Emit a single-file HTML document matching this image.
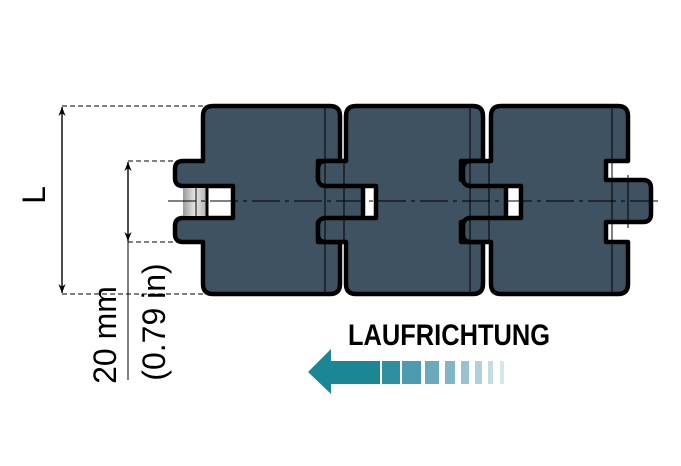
<!DOCTYPE html>
<html><head><meta charset="utf-8"><style>
html,body{margin:0;padding:0;background:#fff;width:681px;height:466px;overflow:hidden}
</style></head><body>
<svg width="681" height="466" viewBox="0 0 681 466" xmlns="http://www.w3.org/2000/svg">
<defs>
<linearGradient id="pg" x1="0" x2="1" y1="0" y2="0">
<stop offset="0" stop-color="#9a9a9a"/><stop offset="0.5" stop-color="#e6e6e6"/><stop offset="1" stop-color="#b0b0b0"/>
</linearGradient>
<marker id="ah" viewBox="0 0 10 10" refX="10" refY="5" markerWidth="9" markerHeight="12" orient="auto-start-reverse" markerUnits="userSpaceOnUse">
<path d="M0,1 L10,5 L0,9 L3,5 Z" fill="#000"/></marker>
</defs>
<g stroke="#000" stroke-width="1" stroke-dasharray="5,3" fill="none">
<line x1="62" y1="106" x2="205" y2="106"/>
<line x1="62" y1="294" x2="205" y2="294"/>
<line x1="128" y1="161" x2="180" y2="161"/>
<line x1="128" y1="242" x2="180" y2="242"/>
</g>
<line x1="62" y1="107" x2="62" y2="293" stroke="#000" stroke-width="1.4" marker-start="url(#ah)" marker-end="url(#ah)"/>
<line x1="128" y1="162" x2="128" y2="241" stroke="#000" stroke-width="1.4" marker-start="url(#ah)" marker-end="url(#ah)"/>
<line x1="128" y1="241" x2="128" y2="380" stroke="#000" stroke-width="1"/>
<text transform="translate(45,195) rotate(-90)" font-family="Liberation Sans, sans-serif" font-size="32" text-anchor="middle">L</text>
<text transform="translate(116,335) rotate(-90)" font-family="Liberation Sans, sans-serif" font-size="32" text-anchor="middle">20 mm</text>
<text transform="translate(165,322) rotate(-90)" font-family="Liberation Sans, sans-serif" font-size="32" text-anchor="middle">(0.79 in)</text>

<g fill="#3f5261" stroke="#000" stroke-width="4.5" stroke-linejoin="round">
<path id="m" transform="translate(203,0)" d="M10,106 L127,106 Q137,106 137,116 L137,161 L115,161 L115,180 L152,180 Q160,180 160,188 L160,214 Q160,222 152,222 L115,222 L115,242 L137,242 L137,284 Q137,294 127,294 L10,294 Q0,294 0,284 L0,242 L-20,242 Q-28,242 -28,234 L-28,226 Q-28,218 -20,218 L30,218 L30,186 L-20,186 Q-28,186 -28,178 L-28,169 Q-28,161 -20,161 L0,161 L0,116 Q0,106 10,106 Z"/>
<use href="#m" transform="translate(143,0)"/>
<use href="#m" transform="translate(288,0)"/>
</g>
<rect x="183" y="188" width="24" height="28" fill="url(#pg)"/>
<g stroke="#000" stroke-width="3"><line x1="207" y1="187" x2="207" y2="217"/></g>
<g stroke="#000" stroke-width="1">
<line x1="196" y1="188" x2="196" y2="216"/>
<line x1="325" y1="108" x2="325" y2="292"/>
<line x1="470" y1="108" x2="470" y2="292"/>
<line x1="612" y1="108" x2="612" y2="292"/>
<line x1="344" y1="163" x2="344" y2="240"/>
<line x1="489" y1="163" x2="489" y2="240"/>
<line x1="628" y1="175" x2="628" y2="228"/>
</g>
<line x1="168" y1="201" x2="662" y2="201" stroke="#000" stroke-width="1" stroke-dasharray="28,5,4,5"/>

<text x="348" y="345" font-family="Liberation Sans Narrow, Liberation Sans, sans-serif" font-weight="bold" font-size="30" textLength="202" lengthAdjust="spacingAndGlyphs">LAUFRICHTUNG</text>
<path d="M308,372 L331,349 L331,361 L380,361 L380,384 L331,384 L331,394 Z" fill="#1b8796"/>
<rect x="382" y="361" width="18" height="23" fill="#2d8fa0"/>
<rect x="402" y="361" width="19" height="23" fill="#4d9bb0"/>
<rect x="425" y="361" width="14" height="23" fill="#6aa9bc"/>
<rect x="445" y="361" width="10" height="23" fill="#82b5c6"/>
<rect x="461" y="361" width="8" height="23" fill="#98c2d0"/>
<rect x="475" y="361" width="7" height="23" fill="#b0d0da"/>
<rect x="488" y="361" width="5" height="23" fill="#c4dbe3"/>
<rect x="500" y="361" width="4" height="23" fill="#d6e6eb"/>
</svg>
</body></html>
